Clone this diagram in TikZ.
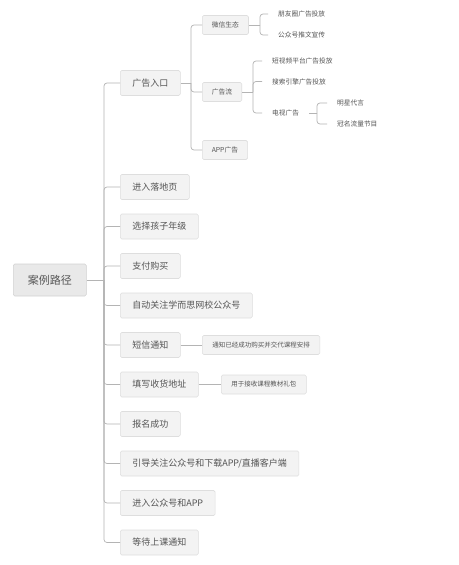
\documentclass[tikz,border=0pt]{standalone}
\usepackage{fontspec}
\setmainfont{Noto Sans CJK SC}
\definecolor{boxline}{HTML}{DEDEDE}
\definecolor{boxfill}{HTML}{F3F3F3}
\definecolor{rootfill}{HTML}{E9E9E9}
\definecolor{rootline}{HTML}{D2D2D2}
\definecolor{txt}{HTML}{555555}
\definecolor{linec}{HTML}{B4B4B4}
\begin{document}
\begin{tikzpicture}[x=1pt,y=-1pt,
 box/.style={draw=boxline, fill=boxfill, rounded corners=1.5pt, line width=0.6pt, text=txt, anchor=west, inner ysep=0pt},
 mainbox/.style={box, font=\fontsize{9}{9}\selectfont, minimum height=25pt, inner xsep=12pt},
 rootbox/.style={box, fill=rootfill, draw=rootline, font=\fontsize{11}{11}\selectfont, minimum height=32pt, inner xsep=14.5pt},
 subbox/.style={box, font=\fontsize{6.8}{6.8}\selectfont, minimum height=19pt, inner xsep=9.5pt},
 notebox/.style={box, font=\fontsize{6.5}{6.5}\selectfont, minimum height=19pt, inner xsep=10pt},
 leaf/.style={anchor=west, text=txt, font=\fontsize{6.7}{6.7}\selectfont, inner xsep=10pt, inner ysep=1pt},
 conn/.style={draw=linec, line width=0.7pt, rounded corners=3pt}]
\fill[white] (0,0) rectangle (458,565);
\useasboundingbox (0,0) rectangle (458,565);

% root
\node[rootbox] (root) at (13,280) {案例路径};

% main branches
\node[mainbox] (a1) at (120,83) {广告入口};
\node[mainbox] (a2) at (120,187) {进入落地页};
\node[mainbox] (a3) at (120,226.5) {选择孩子年级};
\node[mainbox] (a4) at (120,266) {支付购买};
\node[mainbox] (a5) at (120,305.5) {自动关注学而思网校公众号};
\node[mainbox] (a6) at (120,345) {短信通知};
\node[mainbox] (a7) at (120,384.5) {填写收货地址};
\node[mainbox] (a8) at (120,424) {报名成功};
\node[mainbox] (a9) at (120,463.5) {引导关注公众号和下载APP/直播客户端};
\node[mainbox] (a10) at (120,503) {进入公众号和APP};
\node[mainbox] (a11) at (120,542.5) {等待上课通知};

\coordinate (t0) at (104,280);
\draw[conn] (root.east) -- (t0);
\foreach \n in {a1,a2,a3,a4,a5,a6,a7,a8,a9,a10,a11}
  \draw[conn] (t0) |- (\n.west);

% notes
\node[notebox] (n1) at (202,345) {通知已经成功购买并交代课程安排};
\node[notebox] (n2) at (221,384.5) {用于接收课程教材礼包};
\draw[conn] (a6.east) -- (n1.west);
\draw[conn] (a7.east) -- (n2.west);

% ad sub-branches
\node[subbox] (s1) at (202,25) {微信生态};
\node[subbox] (s2) at (202,92) {广告流};
\node[subbox] (s3) at (202,150) {APP广告};
\coordinate (t1) at (191,83);
\draw[conn] (a1.east) -- (t1);
\foreach \n in {s1,s2,s3}
  \draw[conn] (t1) |- (\n.west);

% wechat leaves
\node[leaf] (w1) at (268,14) {朋友圈广告投放};
\node[leaf] (w2) at (268,35) {公众号推文宣传};
\coordinate (t2) at (260,25);
\draw[conn] (s1.east) -- (t2);
\foreach \n in {w1,w2}
  \draw[conn] (t2) |- (\n.west);

% ad flow leaves
\node[leaf] (f1) at (262,61) {短视频平台广告投放};
\node[leaf] (f2) at (262,81.5) {搜索引擎广告投放};
\node[leaf] (f3) at (262,113) {电视广告};
\coordinate (t3) at (253,92);
\draw[conn] (s2.east) -- (t3);
\foreach \n in {f1,f2,f3}
  \draw[conn] (t3) |- (\n.west);

% tv leaves
\node[leaf] (v1) at (327,103) {明星代言};
\node[leaf] (v2) at (327,124) {冠名流量节目};
\coordinate (t4) at (317,113);
\draw[conn] (f3.east) -- (t4);
\foreach \n in {v1,v2}
  \draw[conn] (t4) |- (\n.west);
\end{tikzpicture}
\end{document}
